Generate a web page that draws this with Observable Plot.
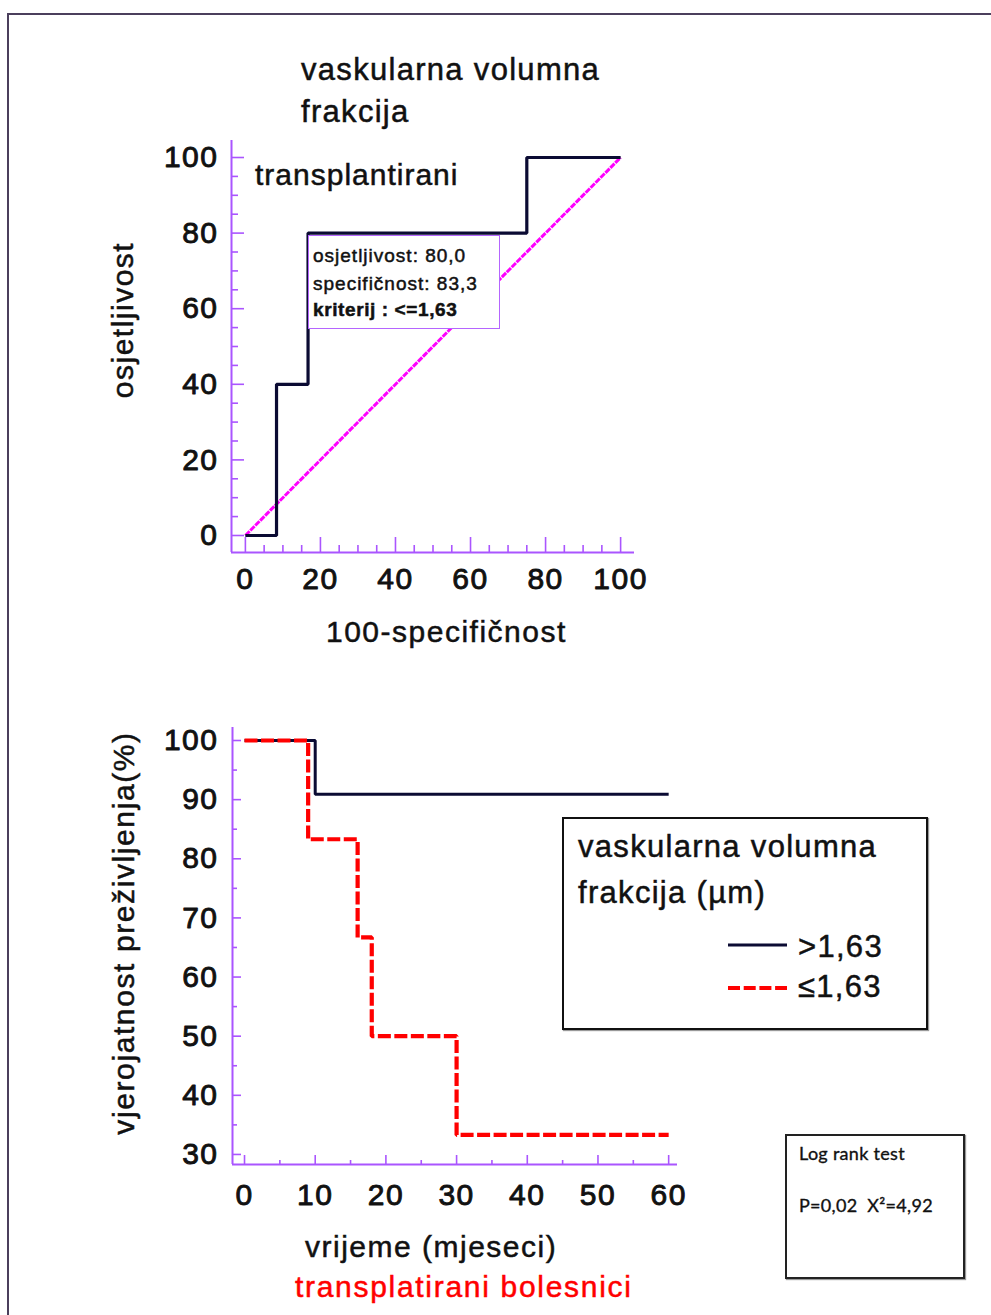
<!DOCTYPE html>
<html><head><meta charset="utf-8">
<script src="https://cdn.jsdelivr.net/npm/d3@7"></script>
<script src="https://cdn.jsdelivr.net/npm/@observablehq/plot@0.6"></script>
<style>
html,body{margin:0;padding:0;background:#fff;overflow:hidden}
#page{position:relative;width:991px;height:1315px;font-family:"Liberation Sans",Arial,sans-serif;color:#111;overflow:hidden}
.t{position:absolute;white-space:nowrap;line-height:1;letter-spacing:1.5px;-webkit-text-stroke:0.5px currentColor}
.frame{position:absolute;left:7px;top:13px;width:1000px;height:1320px;border-top:2px solid #4b3f5c;border-left:2px solid #4b3f5c}
.tip{position:absolute;left:308px;top:235px;width:192px;height:94px;box-sizing:border-box;border:1.5px solid #b565ff;background:#fff}
.legend{position:absolute;left:562px;top:817px;width:366px;height:213px;box-sizing:border-box;border:2px solid #111;box-shadow:1px 1px 1px #999;background:#fff}
.lr{position:absolute;left:785px;top:1134px;width:180px;height:145px;box-sizing:border-box;border:2px solid #222;box-shadow:1px 1px 1px #999;background:#fff}
.lato{font-family:Lato,"Open Sans",sans-serif;white-space:pre;-webkit-text-stroke:0.35px currentColor}
</style></head>
<body><div id="page"><div class="frame"></div></div>
<script>
// ---------- data ----------
const rocFpr = [0, 8.3, 16.7, 75, 100];      // 100 - specificity
const rocTpr = [0, 40, 80, 100, 100];        // sensitivity
const diagX = [0, 100];
const diagY = [0, 100];
const rocTicks = [0, 20, 40, 60, 80, 100];
const rocMinor = [5,10,15,25,30,35,45,50,55,65,70,75,85,90,95];

const kmTimeHigh = [0, 10, 60];
const kmSurvHigh = [100, 90.9, 90.9];
const kmTimeLow = [0, 9, 16, 18, 30, 60];
const kmSurvLow = [100, 83.3, 66.7, 50, 33.3, 33.3];
const kmXTicks = [0, 10, 20, 30, 40, 50, 60];
const kmXMinor = [5, 15, 25, 35, 45, 55];
const kmYTicks = [30, 40, 50, 60, 70, 80, 90, 100];
const kmYMinor = [35, 45, 55, 65, 75, 85, 95];

const groupLabels = [">1,63", "\u22641,63"];
const groupColors = ["#0b0b33", "#ff0000"];

const tipLines = ["osjetljivost: 80,0", "specifičnost: 83,3", "kriterij : <=1,63"];

// ---------- styles ----------
const axisColor = "#aa55ff";
const page = document.getElementById("page");
const svgStyle = (top) => ({
  fontFamily: "Liberation Sans, Arial, sans-serif",
  letterSpacing: "1.5px",
  background: "transparent",
  overflow: "visible",
  position: "absolute",
  left: "0px",
  top: top + "px",
  maxWidth: "none"
});
const labelText = {fontSize: 30, fill: "#111", stroke: "#111", strokeWidth: 0.9, lineAnchor: "middle"};

// ---------- ROC chart ----------
{
  const W = 991, H = 600, mL = 231, mR = 357, mT = 140, mB = 48;
  const fw = W - mL - mR, fh = H - mT - mB;
  const xd = [-3.7, 103.7], yd = [-4.5, 104.5];
  const chart = Plot.plot({
    width: W, height: H, marginLeft: mL, marginRight: mR, marginTop: mT, marginBottom: mB,
    x: {domain: xd, axis: null},
    y: {domain: yd, axis: null},
    style: svgStyle(0),
    marks: [
      Plot.ruleY([yd[0]], {stroke: axisColor, strokeWidth: 2}),
      Plot.ruleX([xd[0]], {stroke: axisColor, strokeWidth: 2}),
      Plot.tickX(rocTicks, {x: d => d, stroke: axisColor, strokeWidth: 1.6, insetTop: fh - 15}),
      Plot.tickX(rocMinor, {x: d => d, stroke: axisColor, strokeWidth: 1.6, insetTop: fh - 7}),
      Plot.tickY(rocTicks, {y: d => d, stroke: axisColor, strokeWidth: 1.6, insetRight: fw - 13}),
      Plot.tickY(rocMinor, {y: d => d, stroke: axisColor, strokeWidth: 1.6, insetRight: fw - 7}),
      Plot.line(diagX, {x: diagX, y: diagY, stroke: "#ff00ff", strokeWidth: 3, strokeDasharray: "6,1", strokeLinecap: "butt"}),
      Plot.line(rocFpr, {x: rocFpr, y: rocTpr, curve: "step-after", stroke: groupColors[0], strokeWidth: 3.2, strokeLinejoin: "miter", strokeLinecap: "butt"}),
      Plot.text(rocTicks, {x: d => d, text: d => String(d), frameAnchor: "bottom", dy: 27, ...labelText}),
      Plot.text(rocTicks, {y: d => d, text: d => String(d), frameAnchor: "left", dx: -13, textAnchor: "end", ...labelText})
    ]
  });
  page.appendChild(chart);
}

// ---------- Kaplan-Meier chart ----------
{
  const top = 650;
  const W = 991, H = 600, mL = 232, mR = 314, mT = 77, mB = 86;
  const fw = W - mL - mR, fh = H - mT - mB;
  const xd = [-1.7, 61.25], yd = [28.3, 102.2];
  const chart = Plot.plot({
    width: W, height: H, marginLeft: mL, marginRight: mR, marginTop: mT, marginBottom: mB,
    x: {domain: xd, axis: null},
    y: {domain: yd, axis: null},
    style: svgStyle(top),
    marks: [
      Plot.ruleY([yd[0]], {stroke: axisColor, strokeWidth: 2}),
      Plot.ruleX([xd[0]], {stroke: axisColor, strokeWidth: 2}),
      Plot.tickX(kmXTicks, {x: d => d, stroke: axisColor, strokeWidth: 1.6, insetTop: fh - 9}),
      Plot.tickX(kmXMinor, {x: d => d, stroke: axisColor, strokeWidth: 1.6, insetTop: fh - 4}),
      Plot.tickY(kmYTicks, {y: d => d, stroke: axisColor, strokeWidth: 1.6, insetRight: fw - 9}),
      Plot.tickY(kmYMinor, {y: d => d, stroke: axisColor, strokeWidth: 1.6, insetRight: fw - 5}),
      Plot.line(kmTimeHigh, {x: kmTimeHigh, y: kmSurvHigh, curve: "step-after", stroke: groupColors[0], strokeWidth: 3, strokeLinejoin: "miter", strokeLinecap: "butt"}),
      Plot.line(kmTimeLow, {x: kmTimeLow, y: kmSurvLow, curve: "step-after", stroke: groupColors[1], strokeWidth: 4.2, strokeDasharray: "13,3.5", strokeLinejoin: "miter", strokeLinecap: "butt"}),
      Plot.text(kmXTicks, {x: d => d, text: d => String(d), frameAnchor: "bottom", dy: 31, ...labelText}),
      Plot.text(kmYTicks, {y: d => d, text: d => String(d), frameAnchor: "left", dx: -14, textAnchor: "end", ...labelText})
    ]
  });
  page.appendChild(chart);
}

// ---------- HTML text & boxes ----------
function addText(txt, left, baseline, size, opts = {}) {
  const d = document.createElement("div");
  d.className = "t" + (opts.cls ? " " + opts.cls : "");
  d.textContent = txt;
  const asc = opts.asc ?? 0.8465;
  d.style.left = left + "px";
  d.style.top = (baseline - asc * size) + "px";
  d.style.fontSize = size + "px";
  if (opts.color) d.style.color = opts.color;
  if (opts.weight) d.style.fontWeight = opts.weight;
  if (opts.ls != null) d.style.letterSpacing = opts.ls + "px";
  page.appendChild(d);
  return d;
}
function addRotated(txt, cx, cy, size, ls) {
  const d = document.createElement("div");
  d.className = "t";
  d.textContent = txt;
  d.style.fontSize = size + "px";
  d.style.letterSpacing = ls + "px";
  d.style.left = cx + "px";
  d.style.top = cy + "px";
  d.style.transform = "translate(-50%,-50%) rotate(-90deg)";
  page.appendChild(d);
}

// ROC texts
addText("vaskularna volumna", 301, 80, 31, {ls: 1.3});
addText("frakcija", 301, 122, 31, {ls: 1.3});
addText("transplantirani", 255, 185, 30, {ls: 1});
addText("100-specifičnost", 326, 642, 30);
addRotated("osjetljivost", 123, 320, 30, 1.5);

// tooltip box
{
  const b = document.createElement("div");
  b.className = "tip";
  page.appendChild(b);
  addText(tipLines[0], 313, 262, 19, {ls: 1});
  addText(tipLines[1], 313, 290, 19, {ls: 1});
  addText(tipLines[2], 313, 316, 19, {ls: 0.6, weight: "bold"});
}

// KM texts
addText("vrijeme (mjeseci)", 305, 1257, 30);
addText("transplatirani bolesnici", 295, 1297, 30, {color: "#ff0000", ls: 1.7});
addRotated("vjerojatnost preživljenja(%)", 124, 933, 30, 1.6);

// legend
{
  const b = document.createElement("div");
  b.className = "legend";
  page.appendChild(b);
  addText("vaskularna volumna", 578, 857, 31, {ls: 1.3});
  addText("frakcija (µm)", 578, 903, 31, {ls: 1.3});
  const ns = "http://www.w3.org/2000/svg";
  const s = document.createElementNS(ns, "svg");
  s.setAttribute("width", 991); s.setAttribute("height", 1315);
  s.style.position = "absolute"; s.style.left = "0px"; s.style.top = "0px"; s.style.pointerEvents = "none";
  const ys = [945, 988];
  groupLabels.forEach((lab, i) => {
    const l = document.createElementNS(ns, "line");
    l.setAttribute("x1", 728); l.setAttribute("x2", 787);
    l.setAttribute("y1", ys[i]); l.setAttribute("y2", ys[i]);
    l.setAttribute("stroke", groupColors[i]);
    l.setAttribute("stroke-width", i === 0 ? 3 : 4);
    if (i === 1) l.setAttribute("stroke-dasharray", "12,3.7");
    s.appendChild(l);
  });
  page.appendChild(s);
  addText(groupLabels[0], 798, 957, 31, {ls: 1.3});
  addText(groupLabels[1], 798, 997, 31, {ls: 1.3});
}

// log rank box
{
  const b = document.createElement("div");
  b.className = "lr";
  page.appendChild(b);
  addText("Log rank test", 799, 1160, 18, {cls: "lato", asc: 0.887, ls: 0.3});
  addText("P=0,02  X\u00B2=4,92", 799, 1212, 18, {cls: "lato", asc: 0.887, ls: 0.3});
}
</script>
</body></html>
